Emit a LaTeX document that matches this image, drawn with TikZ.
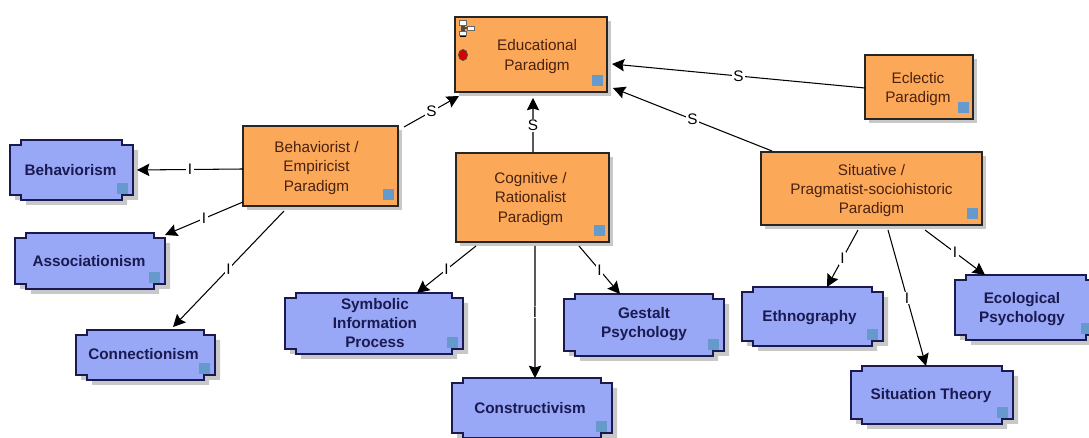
\documentclass[tikz,border=0pt]{standalone}
\usepackage{fontspec}
\setmainfont{Liberation Sans}
\usepackage{xcolor}
\usetikzlibrary{arrows.meta,shadows}

\definecolor{paradigmfill}{RGB}{251,168,88}
\definecolor{paradigmtext}{RGB}{74,34,16}
\definecolor{theoryfill}{RGB}{152,168,246}
\definecolor{theoryedge}{RGB}{26,26,80}
\definecolor{tagblue}{RGB}{102,153,204}
\definecolor{boxshadow}{RGB}{200,200,200}

\begin{document}
\begin{tikzpicture}[x=0.02cm,y=-0.02cm]

\tikzset{paradigm/.style={rectangle, draw=black!85, line width=0.8pt, fill=paradigmfill,
  inner sep=0pt, outer sep=0pt,
  drop shadow={shadow xshift=2.4pt, shadow yshift=-2.4pt, opacity=1, fill=boxshadow}},
paradigmlabel/.style={text=paradigmtext, font=\fontsize{8.7}{11}\selectfont, align=center, inner sep=0pt},
theory/.style={rectangle, inner sep=0pt, outer sep=0pt},
theorylabel/.style={text=theoryedge, font=\fontsize{8.7}{11}\selectfont\bfseries, align=center, inner sep=0pt},
notched/.style={insert path={(-\hw,-\hh+5) -- (-\hw+11,-\hh+5) -- (-\hw+11,-\hh) -- (\hw-11,-\hh) -- (\hw-11,-\hh+5)
  -- (\hw,-\hh+5) -- (\hw,\hh-5) -- (\hw-11,\hh-5) -- (\hw-11,\hh) -- (-\hw+11,\hh) -- (-\hw+11,\hh-5) -- (-\hw,\hh-5) -- cycle}},
tagsquare/.style={fill=tagblue, draw=none},
link/.style={draw=black, line width=0.6pt, -{Stealth[length=7pt,width=7pt,inset=1pt]}},
linklabel/.style={fill=white, text=black, font=\fontsize{8.7}{10}\selectfont, inner xsep=0.8pt, inner ysep=0.5pt}}

\useasboundingbox (0,0) rectangle (1089,438);
\clip (0,0) rectangle (1089,438);

%orange boxes, last two numbers move the text inside the box
\foreach \nm/\cx/\cy/\w/\h/\dx/\dy/\txt in {edu/531/54.5/152/75/6/2/{Educational\\Paradigm},
    eclectic/919/87/108/64/-1/2/{Eclectic\\Paradigm},
    behavior/320.5/166/155/80/-4/2/{Behaviorist /\\Empiricist\\Paradigm},
    cognitive/532.5/197.5/153/89/-2/1.5/{Cognitive /\\Rationalist\\Paradigm},
    situative/871.5/188.5/221/73/0/2/{Situative /\\Pragmatist-sociohistoric\\Paradigm}}
{
  \node[paradigm, minimum width=\w*0.02cm, minimum height=\h*0.02cm] (\nm) at (\cx,\cy) {};
  \node[paradigmlabel] (\nm-text) at ([shift={(\dx,\dy)}]\nm.center) {\txt};
  \fill[tagsquare] ([shift={(-15,-17)}]\nm.south east) rectangle ([shift={(-4,-6)}]\nm.south east);
}

%blue boxes
\foreach \nm/\cx/\cy/\w/\h/\dx/\dy/\txt in {behaviorism/71.5/170/123/60/-1/0/{Behaviorism},
    associationism/90/261/150/56/-1/0/{Associationism},
    connectionism/145.5/355/139/50/-2/-1/{Connectionism},
    symbolic/374/323.5/178/61/1/-0.5/{Symbolic\\Information\\Process},
    gestalt/644/325/160/62/0/-1/{Gestalt\\Psychology},
    constructivism/532/408/160/60/-2/0/{Constructivism},
    ethnography/812.5/316.5/141/59/-3/1/{Ethnography},
    ecological/1026/307.5/142/65/-4/1.5/{Ecological\\Psychology},
    situation/932/395/162/58/-1/1/{Situation Theory}}
{
  \pgfmathsetmacro\hw{\w/2}
  \pgfmathsetmacro\hh{\h/2}
  \begin{scope}[shift={(\cx,\cy)}]
    \fill[boxshadow, shift={(5,5)}, notched];
    \filldraw[fill=theoryfill, draw=theoryedge, line width=0.8pt, notched];
  \end{scope}
  \node[theory, minimum width=\w*0.02cm, minimum height=\h*0.02cm] (\nm) at (\cx,\cy) {};
  \node[theorylabel] (\nm-text) at ([shift={(\dx,\dy)}]\nm.center) {\txt};
  \fill[tagsquare] ([shift={(-16,-17)}]\nm.south east) rectangle ([shift={(-5,-6)}]\nm.south east);
}

%links, end points are offsets from the box centres
\foreach \from/\fx/\fy/\to/\tx/\ty/\lab in {behavior/83.5/-39/edu/-72/41.5/S,
    eclectic/-54/1/edu/81/9.5/S,
    cognitive/0.5/-45/edu/2/43.5/S,
    situative/-99.5/-37.5/edu/82/33.5/S,
    behavior/-77.5/3/behaviorism/65.5/0/I,
    behavior/-77.5/36/associationism/75/-26/I,
    behavior/-36.5/45/connectionism/27.5/-28/I,
    cognitive/-56.5/48.5/symbolic/43/-30.5/I,
    cognitive/2.5/48.5/constructivism/3/-30/I,
    cognitive/46.5/48.5/gestalt/-24/-31/I,
    situative/-13.5/41.5/ethnography/14.5/-29.5/I,
    situative/16.5/41.5/situation/-6/-29/I,
    situative/53.5/41.5/ecological/-41/-32.5/I}
  \draw[link] ([shift={(\fx,\fy)}]\from.center) -- node[linklabel] (lab-\from-\to) {\lab} ([shift={(\tx,\ty)}]\to.center);

%icons on the top box
\filldraw[fill=red!85!black, draw=black!70, line width=0.4pt] (463,55) ellipse (4.5 and 5.5);
\fill[black!70] (461,25) rectangle (464.5,31);
\fill[black!70] (464,27) rectangle (468,29.5);
\fill[black] (459.5,35.5) rectangle (466,37);
\fill[black!60] (467,30.5) rectangle (474,31.5);
\filldraw[fill=white, draw=black!60, line width=0.3pt] (459.5,20.5) rectangle (466,25);
\filldraw[fill=white, draw=black!60, line width=0.3pt] (467.5,26.5) rectangle (474,30.5);
\filldraw[fill=white, draw=black!60, line width=0.3pt] (459.5,31) rectangle (466,35.5);

\end{tikzpicture}
\end{document}
